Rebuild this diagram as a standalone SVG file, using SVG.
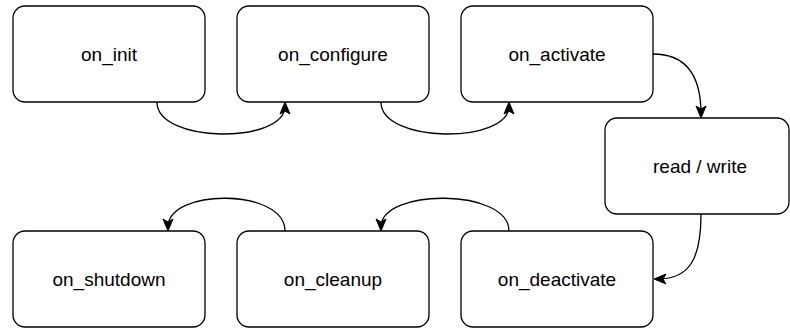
<svg xmlns="http://www.w3.org/2000/svg" width="790" height="329" viewBox="0 0 790 329">
<style>
.n rect{fill:#fff;stroke:#000;stroke-width:1.3}
.n text{font-family:"Liberation Sans",Arial,sans-serif;font-size:19px;fill:#000;text-anchor:middle}
.e path{fill:none;stroke:#000;stroke-width:1.3}
.e .h{fill:#000;stroke:#000;stroke-width:1}
</style>
<defs>
<path id="ah" d="M0,0 L-12,-5 L-9,0 L-12,5 z"/>
</defs>
<rect width="790" height="329" fill="#fff"/>
<g class="e">
<path d="M157,102 C157,144 285,144 285,106"/>
<path d="M381,102 C381,144 509,144 509,106"/>
<path d="M653,54 C690,54 701,80 701,114"/>
<path d="M701,214 C701,258 690,279 658,279"/>
<path d="M509,231 C509,188 381,188 381,227"/>
<path d="M285,231 C285,188 168,188 168,227"/>
<use class="h" href="#ah" transform="translate(285,102) rotate(-90)"/>
<use class="h" href="#ah" transform="translate(509,102) rotate(-90)"/>
<use class="h" href="#ah" transform="translate(701,118) rotate(90)"/>
<use class="h" href="#ah" transform="translate(654,279) rotate(180)"/>
<use class="h" href="#ah" transform="translate(381,231) rotate(90)"/>
<use class="h" href="#ah" transform="translate(168,231) rotate(90)"/>
</g>
<g id="on_init" class="n"><rect x="13" y="6" width="192" height="96" rx="12"/><text x="109" y="61">on_init</text></g>
<g id="on_configure" class="n"><rect x="237" y="6" width="192" height="96" rx="12"/><text x="333" y="61">on_configure</text></g>
<g id="on_activate" class="n"><rect x="461" y="6" width="192" height="96" rx="12"/><text x="557" y="61">on_activate</text></g>
<g id="read_write" class="n"><rect x="605" y="118" width="184" height="96" rx="12"/><text x="700" y="173">read / write</text></g>
<g id="on_deactivate" class="n"><rect x="461" y="231" width="192" height="96" rx="12"/><text x="557" y="286">on_deactivate</text></g>
<g id="on_cleanup" class="n"><rect x="237" y="231" width="192" height="96" rx="12"/><text x="333" y="286">on_cleanup</text></g>
<g id="on_shutdown" class="n"><rect x="13" y="231" width="192" height="96" rx="12"/><text x="109" y="286">on_shutdown</text></g>
</svg>
